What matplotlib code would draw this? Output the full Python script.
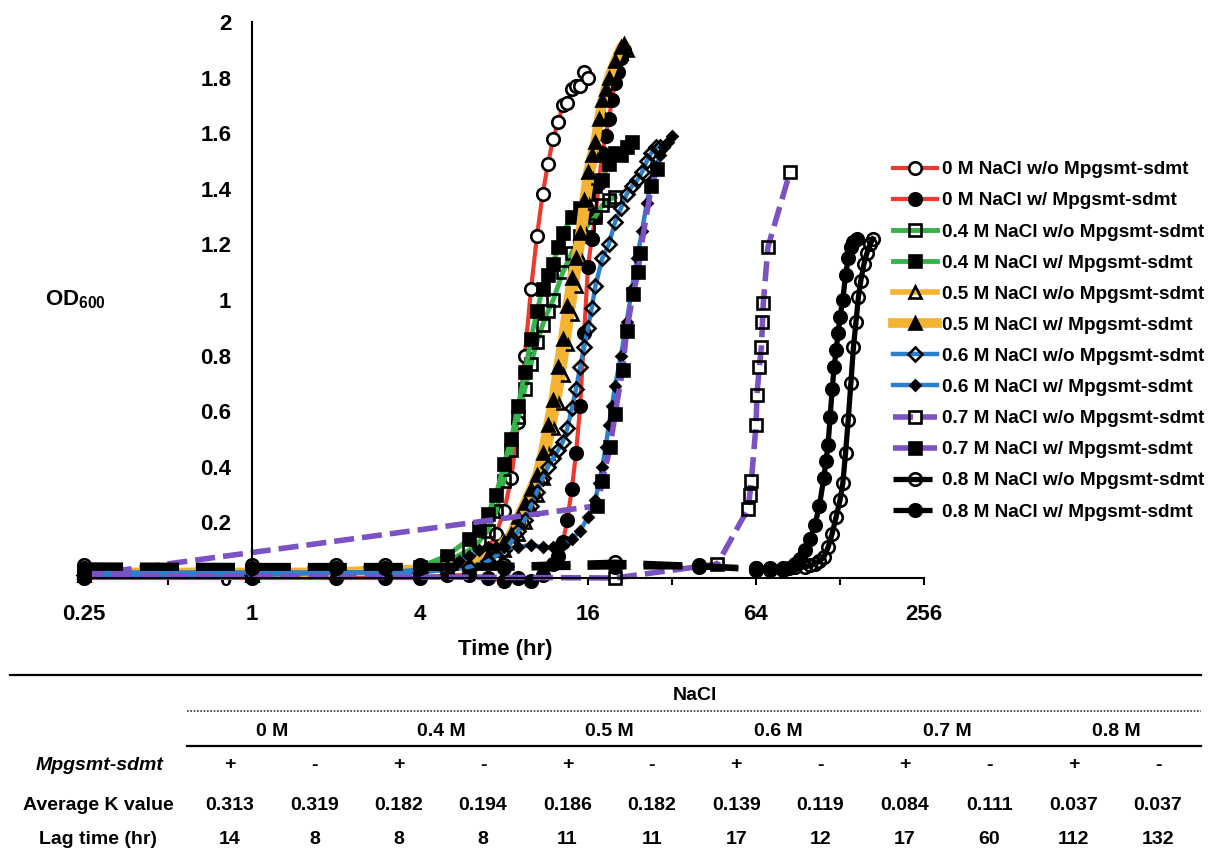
import numpy as np
import matplotlib.pyplot as plt
from matplotlib.ticker import FixedLocator, FixedFormatter, NullFormatter

plt.rcParams['font.family'] = ['Liberation Sans', 'DejaVu Sans']
plt.rcParams['font.weight'] = 'bold'
plt.rcParams['mathtext.fontset'] = 'custom'
plt.rcParams['mathtext.rm'] = 'Liberation Sans:bold'
plt.rcParams['mathtext.bf'] = 'Liberation Sans:bold'

# --- growth curves (time in hr, OD600) ---
t0_wo = [0.25, 1, 2, 3, 4, 5, 6, 7, 7.5, 8, 8.5, 9, 9.5, 10, 10.5, 11, 11.5, 12, 12.5, 13, 13.5, 14, 14.5, 15, 15.5, 16]
od0_wo = [0.02, 0.02, 0.02, 0.02, 0.03, 0.04, 0.06, 0.10, 0.16, 0.24, 0.36, 0.56, 0.80, 1.04, 1.23, 1.38, 1.49, 1.58, 1.64, 1.70, 1.71, 1.76, 1.77, 1.77, 1.82, 1.80]

t0_w = [0.25, 1, 2, 3, 4, 5, 6, 7, 8, 9, 10, 11, 12, 12.5, 13, 13.5, 14, 14.5, 15, 15.5, 16, 16.5, 17, 17.5, 18, 18.5, 19, 19.5, 20, 20.5, 21, 21.5]
od0_w = [0.0, 0.0, 0.0, 0.0, 0.0, 0.01, 0.01, 0.0, -0.01, 0.0, -0.01, 0.01, 0.05, 0.08, 0.13, 0.21, 0.32, 0.45, 0.62, 0.88, 1.12, 1.22, 1.30, 1.42, 1.53, 1.59, 1.65, 1.72, 1.78, 1.82, 1.87, 1.90]

t04_wo = [0.25, 1, 2, 3, 4, 5, 6, 6.5, 7, 7.5, 8, 8.5, 9, 9.5, 10, 10.5, 11, 11.5, 12, 13, 14, 15, 16, 17, 18, 19, 20]
od04_wo = [0.01, 0.01, 0.02, 0.02, 0.03, 0.06, 0.10, 0.13, 0.17, 0.24, 0.35, 0.46, 0.58, 0.68, 0.77, 0.85, 0.91, 0.96, 1.00, 1.10, 1.17, 1.23, 1.27, 1.30, 1.34, 1.36, 1.37]

t04_w = [0.25, 1, 2, 3, 4, 5, 6, 6.5, 7, 7.5, 8, 8.5, 9, 9.5, 10, 10.5, 11, 11.5, 12, 12.5, 13, 14, 15, 16, 17, 18, 19, 20, 21, 22, 23]
od04_w = [0.02, 0.02, 0.03, 0.03, 0.04, 0.08, 0.14, 0.18, 0.23, 0.30, 0.41, 0.50, 0.62, 0.74, 0.86, 0.96, 1.04, 1.09, 1.13, 1.19, 1.24, 1.30, 1.33, 1.38, 1.41, 1.43, 1.49, 1.53, 1.52, 1.55, 1.57]

t05_wo = [0.25, 1, 2, 3, 4, 5, 6, 7, 7.5, 8, 8.5, 9, 9.5, 10, 10.5, 11, 11.5, 12,
          12.5, 13, 13.5, 14, 14.5, 15, 15.5, 16, 16.5, 17, 17.5, 18, 18.5, 19, 19.5, 20, 21, 22]
od05_wo = [0.01, 0.01, 0.02, 0.02, 0.03, 0.03, 0.04, 0.06, 0.08, 0.10, 0.13, 0.16, 0.20, 0.25, 0.30, 0.36, 0.45, 0.54,
           0.63, 0.73, 0.84, 0.95, 1.05, 1.15, 1.25, 1.35, 1.44, 1.52, 1.60, 1.67, 1.73, 1.78, 1.82, 1.85, 1.89, 1.90]

t05_w = [0.25, 1, 2, 3, 4, 5, 6, 7, 7.5, 8, 8.5, 9, 9.5, 10, 10.5, 11, 11.5, 12,
         12.5, 13, 13.5, 14, 14.5, 15, 15.5, 16, 16.5, 17, 17.5, 18, 18.5, 19, 20, 21, 21.5]
od05_w = [0.02, 0.02, 0.02, 0.03, 0.03, 0.04, 0.05, 0.08, 0.10, 0.13, 0.16, 0.22, 0.27, 0.32, 0.37, 0.45, 0.55, 0.64,
          0.76, 0.86, 0.98, 1.08, 1.15, 1.24, 1.36, 1.46, 1.52, 1.57, 1.65, 1.72, 1.76, 1.80, 1.86, 1.91, 1.92]

t06_wo = [0.25, 1, 2, 3, 4, 5, 6, 7, 7.5, 8, 8.5, 9, 9.5, 10, 10.5, 11, 11.5, 12, 12.5, 13,
          13.5, 14, 14.5, 15, 15.5, 16, 16.5, 17, 18, 19, 20, 21, 22, 23, 24, 25, 26, 27, 28, 29]
od06_wo = [0.01, 0.01, 0.02, 0.02, 0.02, 0.03, 0.04, 0.06, 0.08, 0.10, 0.13, 0.17, 0.21, 0.26, 0.31, 0.36, 0.40, 0.43, 0.46, 0.49,
           0.54, 0.61, 0.68, 0.76, 0.83, 0.90, 0.97, 1.05, 1.15, 1.20, 1.28, 1.33, 1.38, 1.41, 1.43, 1.46, 1.50, 1.53, 1.55, 1.55]

t06_w = [0.25, 1, 2, 3, 4, 5, 5.5, 6, 6.5, 7, 7.5, 8, 9, 10, 11, 12, 12.5, 13, 14, 15,
         16, 17, 17.5, 18, 18.5, 19, 19.5, 20, 21, 22, 23, 24, 25, 26, 27, 28, 29, 30, 31, 32]
od06_w = [0.02, 0.02, 0.02, 0.02, 0.03, 0.04, 0.06, 0.08, 0.10, 0.11, 0.11, 0.11, 0.11, 0.12, 0.11, 0.11, 0.12, 0.12, 0.14, 0.17,
          0.22, 0.28, 0.34, 0.40, 0.47, 0.55, 0.62, 0.69, 0.80, 0.92, 1.04, 1.15, 1.25, 1.35, 1.43, 1.48, 1.52, 1.55, 1.57, 1.59]

t07_wo = [0.25, 20, 46.5, 60, 60.8, 61.6, 64, 64.5, 65.8, 66.9, 67.5, 68, 70.6, 84.7]
od07_wo = [0.01, 0.0, 0.05, 0.25, 0.30, 0.35, 0.55, 0.66, 0.76, 0.83, 0.92, 0.99, 1.19, 1.46]

t07_w = [0.25, 17.3, 18, 19.2, 20, 21.3, 22, 23.2, 24.2, 24.6, 27, 28.3]
od07_w = [0.01, 0.26, 0.35, 0.47, 0.59, 0.75, 0.89, 1.02, 1.10, 1.17, 1.41, 1.47]

t08_wo = [0.25, 1, 2, 3, 4, 8, 20, 40, 64, 72, 80, 88, 96, 100, 104, 108,
          112, 116, 120, 124, 128, 131, 134, 137, 140, 143, 146, 149, 152, 156, 160, 164, 168]
od08_wo = [0.047, 0.045, 0.045, 0.045, 0.045, 0.045, 0.057, 0.045, 0.035, 0.035, 0.035, 0.04, 0.04, 0.045, 0.05, 0.06,
           0.075, 0.11, 0.16, 0.22, 0.28, 0.34, 0.45, 0.57, 0.70, 0.83, 0.92, 1.01, 1.07, 1.13, 1.17, 1.20, 1.22]

t08_w = [0.25, 1, 2, 3, 4, 8, 20, 40, 64, 72, 80, 84, 88, 92, 96, 100,
         104, 108, 112, 114, 116, 118, 120, 122, 124, 126, 128, 131, 134, 137, 140, 143, 147]
od08_w = [0.035, 0.035, 0.035, 0.035, 0.035, 0.035, 0.04, 0.04, 0.03, 0.03, 0.03, 0.035, 0.05, 0.07, 0.10, 0.14,
          0.19, 0.26, 0.36, 0.42, 0.48, 0.58, 0.68, 0.76, 0.82, 0.88, 0.94, 1.00, 1.09, 1.15, 1.19, 1.21, 1.22]

# --- table under the chart ---
nacl_groups = ['0 M', '0.4 M', '0.5 M', '0.6 M', '0.7 M', '0.8 M']
gene_signs = ['+', '-'] * 6
k_values = [0.313, 0.319, 0.182, 0.194, 0.186, 0.182, 0.139, 0.119, 0.084, 0.111, 0.037, 0.037]
lag_times = [14, 8, 8, 8, 11, 11, 17, 12, 17, 60, 112, 132]

red = '#ee3a2c'
green = '#35b24a'
orange = '#f4b331'
blue = '#2b80cc'
purple = '#7b52c4'
pdash = (0, (3.6, 1.45))
kdash = (0, (7.4, 3.2))

W, H = 1213, 851
fig = plt.figure(figsize=(W / 100, H / 100), dpi=100)
ax = fig.add_axes([84 / W, 1 - 578 / H, (924 - 84) / W, (578 - 22) / H])

series = [
    (t0_wo, od0_wo, '0 M NaCl w/o Mpgsmt-sdmt', red, 3.0, '-', 'o', 9, 'white'),
    (t0_w, od0_w, '0 M NaCl w/ Mpgsmt-sdmt', red, 3.0, '-', 'o', 9, 'black'),
    (t04_wo, od04_wo, '0.4 M NaCl w/o Mpgsmt-sdmt', green, 3.5, '-', 's', 8.5, 'none'),
    (t04_w, od04_w, '0.4 M NaCl w/ Mpgsmt-sdmt', green, 3.5, '-', 's', 8.5, 'black'),
    (t05_wo, od05_wo, '0.5 M NaCl w/o Mpgsmt-sdmt', orange, 4.0, '-', '^', 8.5, 'none'),
    (t05_w, od05_w, '0.5 M NaCl w/ Mpgsmt-sdmt', orange, 7.0, '-', '^', 9, 'black'),
    (t06_wo, od06_wo, '0.6 M NaCl w/o Mpgsmt-sdmt', blue, 3.2, '-', 'D', 7, 'none'),
    (t06_w, od06_w, '0.6 M NaCl w/ Mpgsmt-sdmt', blue, 3.2, '-', 'D', 5, 'black'),
    (t07_wo, od07_wo, '0.7 M NaCl w/o Mpgsmt-sdmt', purple, 4.0, pdash, 's', 8.5, 'none'),
    (t07_w, od07_w, '0.7 M NaCl w/ Mpgsmt-sdmt', purple, 4.0, pdash, 's', 8.5, 'black'),
]

handles = []
for t, od, lab, col, lw, ls, mk, ms, mfc in series:
    ln, = ax.plot(t, od, color=col, lw=lw, ls=ls, marker=mk, ms=ms, mfc=mfc,
                  mec='black', mew=1.9, label=lab, clip_on=False)
    handles.append(ln)

# 0.8 M: dashed where points are sparse, looks solid where dense
n_base = 8
for t, od, lab, mfc in [(t08_wo, od08_wo, '0.8 M NaCl w/o Mpgsmt-sdmt', 'none'),
                        (t08_w, od08_w, '0.8 M NaCl w/ Mpgsmt-sdmt', 'black')]:
    ln, = ax.plot(t[:n_base + 1], od[:n_base + 1], color='black', lw=3.8, ls=kdash,
                  marker='o', ms=9, mfc=mfc, mec='black', mew=1.9, label=lab, clip_on=False)
    ax.plot(t[n_base:], od[n_base:], color='black', lw=3.8, ls='-',
            marker='o', ms=9, mfc=mfc, mec='black', mew=1.9, clip_on=False)
    handles.append(ln)

ax.set_xscale('log', base=2)
ax.set_xlim(0.25, 256)
ax.set_ylim(0, 2)
ax.xaxis.set_major_locator(FixedLocator([0.25, 1, 4, 16, 64, 256]))
ax.xaxis.set_major_formatter(FixedFormatter(['0.25', '1', '4', '16', '64', '256']))
ax.xaxis.set_minor_locator(FixedLocator([0.5, 2, 8, 32, 128]))
ax.xaxis.set_minor_formatter(NullFormatter())
ax.tick_params(axis='x', which='both', direction='out', length=5, width=1.5, pad=14, labelsize=16)
yt = np.round(np.arange(0, 2.01, 0.2), 1)
ax.set_yticks(yt)
ax.set_yticklabels([f'{v:g}' for v in yt])
ax.tick_params(axis='y', length=0, pad=15, labelsize=16)
ax.spines['top'].set_visible(False)
ax.spines['right'].set_visible(False)
ax.spines['left'].set_position(('data', 1))
ax.spines['left'].set_linewidth(1.5)
ax.spines['bottom'].set_linewidth(1.5)
ax.patch.set_visible(False)

fig.text(505 / W, 1 - 650 / H, 'Time (hr)', ha='center', va='center', fontsize=16, fontweight='bold')
fig.text(75 / W, 1 - 300 / H, r'OD$_{600}$', ha='center', va='center', fontsize=16, fontweight='bold')

fig.legend(handles=handles, loc='upper left', bbox_to_anchor=(893 / W, 1 - 161 / H),
           frameon=False, fontsize=13.7, handlelength=2.3, handletextpad=0.28,
           labelspacing=0.725, borderpad=0, borderaxespad=0)

# table drawn in pixel coordinates
tab = fig.add_axes([0, 0, 1, 1])
tab.set_xlim(0, W)
tab.set_ylim(H, 0)
tab.axis('off')
tab.plot([10, 1201], [675, 675], color='black', lw=1.6)
tab.plot([187, 1201], [711, 711], color='#333333', lw=1.2, ls=(0, (1, 1)))
tab.plot([187, 1201], [746, 746], color='black', lw=1.6)
cols = np.linspace(230, 1158, 12)
fs = 14
tab.text(695, 695, 'NaCl', ha='center', va='center', fontsize=fs, fontweight='bold')
for i, g in enumerate(nacl_groups):
    tab.text((cols[2 * i] + cols[2 * i + 1]) / 2, 732, g, ha='center', va='center', fontsize=fs, fontweight='bold')
tab.text(100, 765, 'Mpgsmt-sdmt', ha='center', va='center', fontsize=fs, fontweight='bold', style='italic')
tab.text(98, 805, 'Average K value', ha='center', va='center', fontsize=fs, fontweight='bold')
tab.text(98, 840, 'Lag time (hr)', ha='center', va='center', fontsize=fs, fontweight='bold')
for x, s, k, lag in zip(cols, gene_signs, k_values, lag_times):
    tab.text(x, 765, s, ha='center', va='center', fontsize=fs, fontweight='bold')
    tab.text(x, 805, f'{k:.3f}', ha='center', va='center', fontsize=fs, fontweight='bold')
    tab.text(x, 840, str(lag), ha='center', va='center', fontsize=fs, fontweight='bold')

fig.savefig('out.png', dpi=100)
